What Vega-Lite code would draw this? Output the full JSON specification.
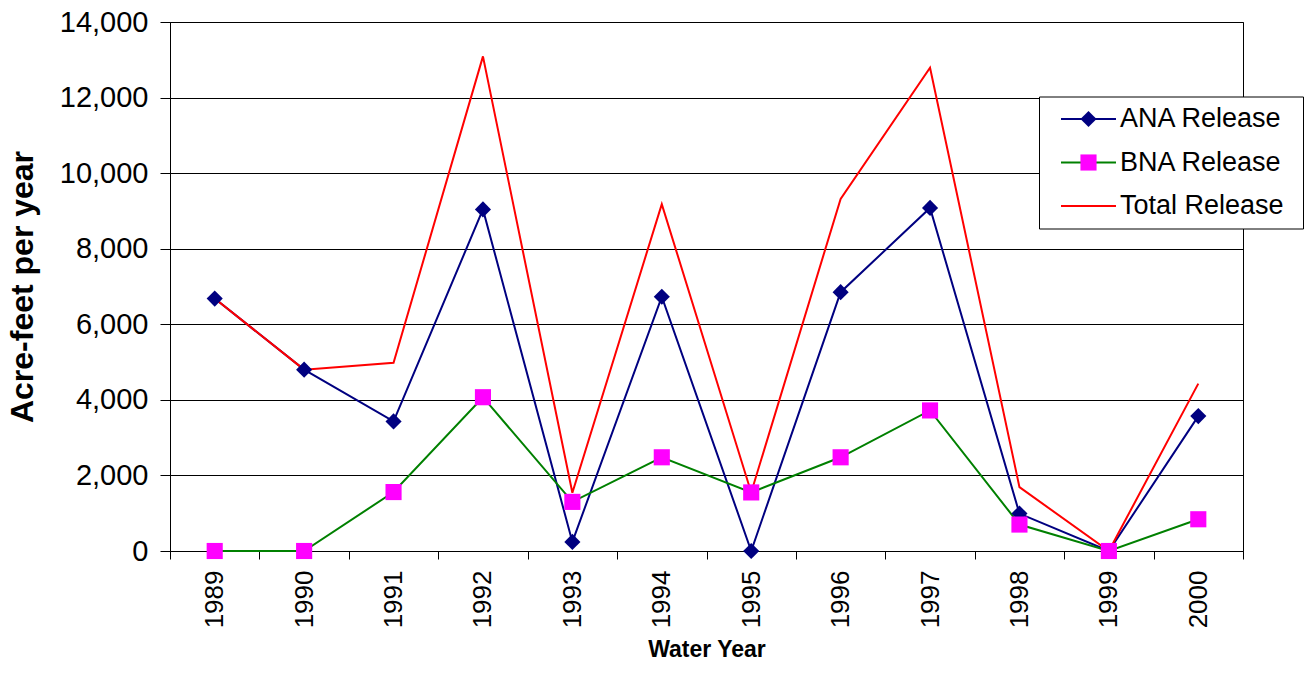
{
  "$schema": "https://vega.github.io/schema/vega-lite/v6.json",
  "width": 1073,
  "height": 529,
  "autosize": {"type": "none"},
  "padding": {"left": 170, "top": 22, "right": 65, "bottom": 126},
  "background": "white",
  "config": {
    "font": "Liberation Sans",
    "view": {"stroke": "#000000", "strokeWidth": 1}
  },
  "data": {
    "values": [
      {"year": "1989", "series": "ANA Release", "value": 6680},
      {"year": "1990", "series": "ANA Release", "value": 4800},
      {"year": "1991", "series": "ANA Release", "value": 3430},
      {"year": "1992", "series": "ANA Release", "value": 9040},
      {"year": "1993", "series": "ANA Release", "value": 240},
      {"year": "1994", "series": "ANA Release", "value": 6730},
      {"year": "1995", "series": "ANA Release", "value": 0},
      {"year": "1996", "series": "ANA Release", "value": 6850},
      {"year": "1997", "series": "ANA Release", "value": 9080},
      {"year": "1998", "series": "ANA Release", "value": 990},
      {"year": "1999", "series": "ANA Release", "value": 0},
      {"year": "2000", "series": "ANA Release", "value": 3570},
      {"year": "1989", "series": "BNA Release", "value": 0},
      {"year": "1990", "series": "BNA Release", "value": 0},
      {"year": "1991", "series": "BNA Release", "value": 1560},
      {"year": "1992", "series": "BNA Release", "value": 4070},
      {"year": "1993", "series": "BNA Release", "value": 1300},
      {"year": "1994", "series": "BNA Release", "value": 2480},
      {"year": "1995", "series": "BNA Release", "value": 1550},
      {"year": "1996", "series": "BNA Release", "value": 2480},
      {"year": "1997", "series": "BNA Release", "value": 3720},
      {"year": "1998", "series": "BNA Release", "value": 700},
      {"year": "1999", "series": "BNA Release", "value": 0},
      {"year": "2000", "series": "BNA Release", "value": 840},
      {"year": "1989", "series": "Total Release", "value": 6680},
      {"year": "1990", "series": "Total Release", "value": 4800},
      {"year": "1991", "series": "Total Release", "value": 4980},
      {"year": "1992", "series": "Total Release", "value": 13090},
      {"year": "1993", "series": "Total Release", "value": 1540},
      {"year": "1994", "series": "Total Release", "value": 9180},
      {"year": "1995", "series": "Total Release", "value": 1550},
      {"year": "1996", "series": "Total Release", "value": 9320},
      {"year": "1997", "series": "Total Release", "value": 12790},
      {"year": "1998", "series": "Total Release", "value": 1690},
      {"year": "1999", "series": "Total Release", "value": 0},
      {"year": "2000", "series": "Total Release", "value": 4430}
    ]
  },
  "encoding": {
    "x": {
      "field": "year",
      "type": "ordinal",
      "scale": {"paddingInner": 0, "paddingOuter": 0},
      "axis": {
        "title": "Water Year",
        "titleFont": "Liberation Sans",
        "titleFontSize": 23,
        "titleFontWeight": "bold",
        "titleColor": "#000000",
        "titlePadding": 11,
        "labelAngle": -90,
        "labelFontSize": 26,
        "labelColor": "#000000",
        "labelPadding": 11,
        "tickBand": "extent",
        "tickSize": 8,
        "tickColor": "#000000",
        "domainColor": "#000000",
        "domainWidth": 1,
        "grid": false
      }
    },
    "y": {
      "field": "value",
      "type": "quantitative",
      "scale": {"domain": [0, 14000], "nice": false},
      "axis": {
        "title": "Acre-feet per year",
        "titleFont": "Liberation Sans",
        "titleFontSize": 32,
        "titleFontWeight": "bold",
        "titleColor": "#000000",
        "titlePadding": 20,
        "values": [0, 2000, 4000, 6000, 8000, 10000, 12000, 14000],
        "format": ",d",
        "labelFontSize": 29,
        "labelColor": "#000000",
        "labelPadding": 12,
        "tickSize": 10,
        "tickColor": "#000000",
        "domainColor": "#000000",
        "grid": true,
        "gridColor": "#000000",
        "gridWidth": 1
      }
    }
  },
  "layer": [
    {
      "mark": {"type": "line", "strokeWidth": 2},
      "encoding": {
        "stroke": {
          "field": "series",
          "type": "nominal",
          "scale": {
            "domain": ["ANA Release", "BNA Release", "Total Release"],
            "range": ["#000080", "#008000", "#FF0000"]
          },
          "legend": {
            "title": ".",
            "titleOrient": "right",
            "titleColor": "transparent",
            "titleFontSize": 8,
            "titlePadding": 7,
            "orient": "none",
            "legendX": 869,
            "legendY": 74.5,
            "padding": 9,
            "strokeColor": "#000000",
            "fillColor": "#FFFFFF",
            "symbolType": "M-4,0H4",
            "symbolSize": 189,
            "symbolStrokeWidth": 2,
            "symbolOffset": 27,
            "labelOffset": 18,
            "labelFontSize": 27,
            "labelColor": "#000000",
            "labelFont": "Liberation Sans",
            "rowPadding": 15.5,
            "labelLimit": 400
          }
        }
      }
    },
    {
      "transform": [{"filter": "datum.series != 'Total Release'"}],
      "mark": {"type": "point", "filled": true, "size": 260, "opacity": 1, "strokeWidth": 0},
      "encoding": {
        "fill": {
          "field": "series",
          "type": "nominal",
          "scale": {
            "domain": ["ANA Release", "BNA Release"],
            "range": ["#000080", "#FF00FF"]
          },
          "legend": {
            "title": null,
            "orient": "none",
            "legendX": 869,
            "legendY": 74.5,
            "padding": 9,
            "strokeColor": null,
            "fillColor": null,
            "symbolSize": 260,
            "symbolStrokeWidth": 0,
            "symbolOpacity": 1,
            "symbolOffset": 27,
            "labelOffset": 18,
            "labelFontSize": 27,
            "labelColor": "transparent",
            "rowPadding": 15.5,
            "labelLimit": 400
          }
        },
        "shape": {
          "field": "series",
          "type": "nominal",
          "scale": {
            "domain": ["ANA Release", "BNA Release"],
            "range": ["diamond", "square"]
          },
          "legend": {
            "title": null,
            "orient": "none",
            "legendX": 869,
            "legendY": 74.5,
            "padding": 9,
            "symbolSize": 260,
            "symbolOffset": 27,
            "labelOffset": 18,
            "labelFontSize": 27,
            "labelColor": "transparent",
            "rowPadding": 15.5
          }
        }
      }
    }
  ]
}
